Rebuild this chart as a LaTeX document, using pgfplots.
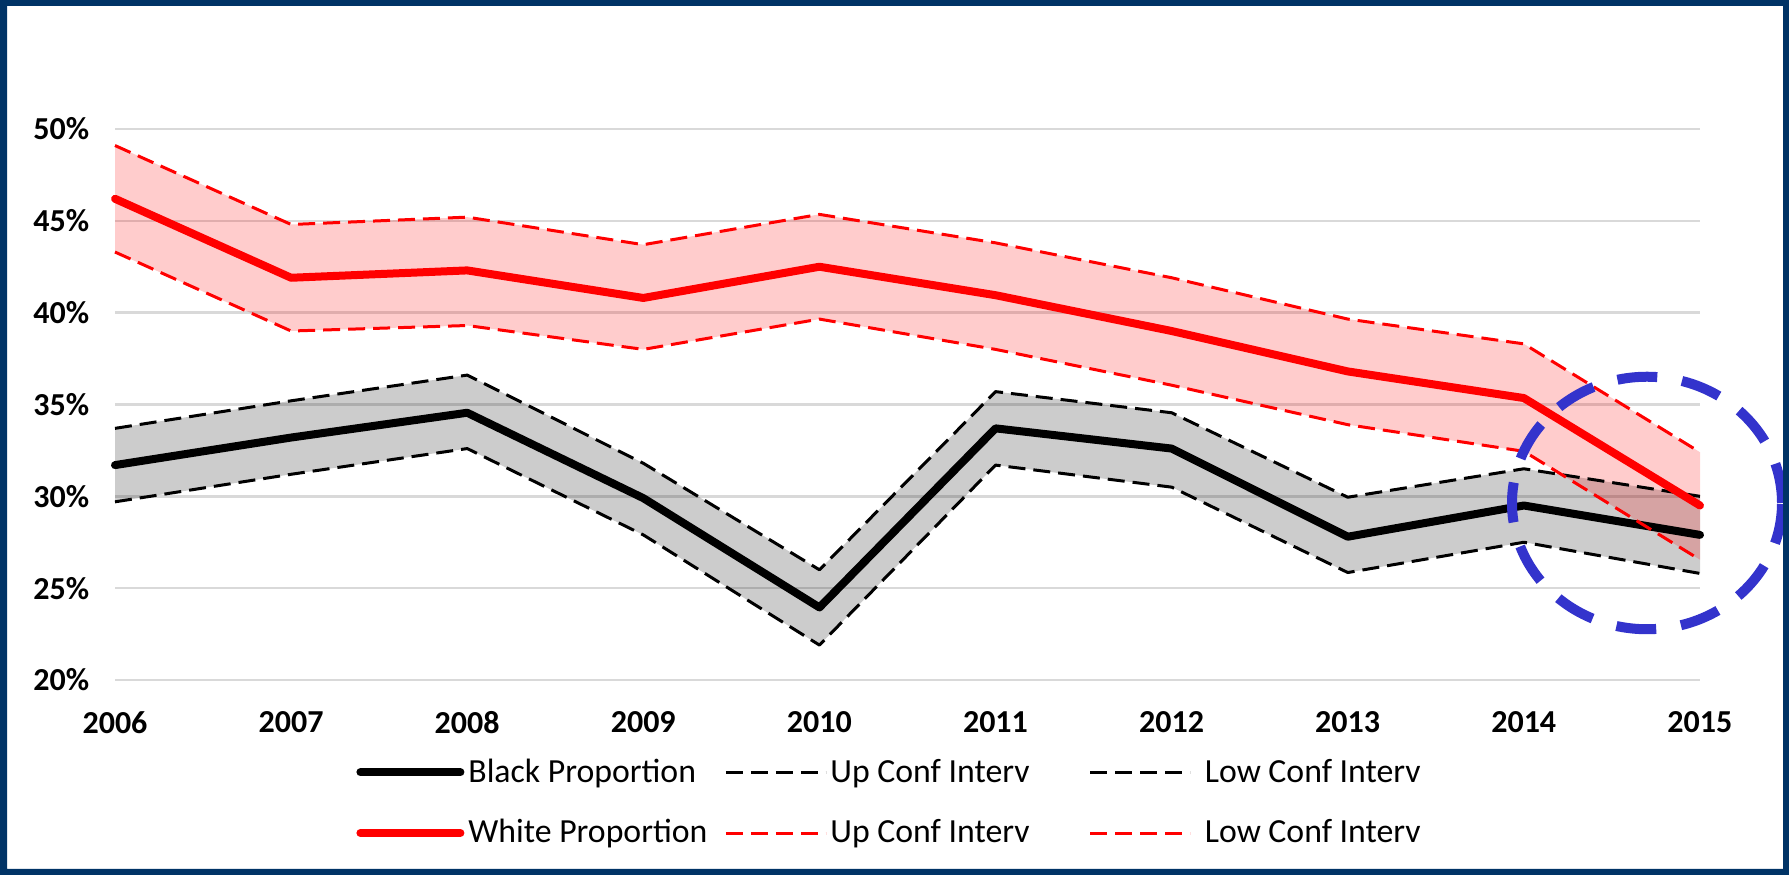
\documentclass[border=0pt]{standalone}
\usepackage{pgfplots}
\pgfplotsset{compat=1.18}
\usepackage{pgfplotstable}
\usepgfplotslibrary{fillbetween}
\usepackage{fontspec}
\setmainfont{Carlito}
\definecolor{navy}{RGB}{0,51,102}
\definecolor{gridgray}{RGB}{217,217,217}
\definecolor{ellblue}{RGB}{51,51,204}

\pgfplotstableread{
year bp bu bl wp wu wl
2006 31.7 33.7 29.7 46.2 49.1 43.3
2007 33.2 35.2 31.2 41.9 44.8 39.0
2008 34.55 36.6 32.6 42.3 45.2 39.3
2009 29.9 31.8 27.9 40.8 43.7 38.0
2010 23.95 26.0 21.9 42.5 45.35 39.65
2011 33.7 35.7 31.7 40.95 43.8 38.0
2012 32.6 34.55 30.5 39.0 41.9 36.05
2013 27.8 29.95 25.85 36.8 39.65 33.9
2014 29.5 31.5 27.5 35.35 38.3 32.45
2015 27.9 30.0 25.8 29.5 32.4 26.55
}\data

\begin{document}
\begin{tikzpicture}
\path (0,0) rectangle (715.6pt,350pt);
\begin{axis}[
  at={(46pt,78pt)}, anchor=south west,
  scale only axis, width=634pt, height=220.4pt,
  xmin=2006, xmax=2015, ymin=20, ymax=50,
  xtick={2006,2007,...,2015}, ytick={20,25,...,50},
  axis line style={draw=none},
  major tick length=0pt,
  ymajorgrids, grid style={gridgray, line width=1pt},
  /pgf/number format/assume math mode=true,
  /pgf/number format/1000 sep={},
  xticklabel style={font=\fontsize{12.8pt}{15pt}\selectfont\bfseries, yshift=-9pt},
  yticklabel style={font=\fontsize{12.8pt}{15pt}\selectfont\bfseries, xshift=-6.8pt},
  yticklabel={\pgfmathprintnumber{\tick}\%},
  clip=false,
  legend columns=3,
  legend cell align=left,
  legend image code/.code={\draw[#1] (0pt,0pt) -- (40pt,0pt);},
  legend style={at={(0.152,-0.142)}, anchor=north west, draw=none, fill=none,
    font=\fontsize{13.5pt}{15pt}\selectfont, inner sep=0pt,
    nodes={inner sep=0pt},
    row sep=13.4pt,
    /tikz/column 1/.style={column sep=1.6pt},
    /tikz/column 2/.style={column sep=0pt},
    /tikz/column 3/.style={column sep=1.2pt},
    /tikz/column 4/.style={column sep=0pt},
    /tikz/column 5/.style={column sep=5.3pt}},
  line join=round,
]
% invisible boundary paths for the confidence bands
\addplot[draw=none, forget plot, name path=bu] table[x=year,y=bu]{\data};
\addplot[draw=none, forget plot, name path=bl] table[x=year,y=bl]{\data};
\addplot[draw=none, forget plot, name path=wu] table[x=year,y=wu]{\data};
\addplot[draw=none, forget plot, name path=wl] table[x=year,y=wl]{\data};
\addplot[fill=black, fill opacity=0.2, draw=none, forget plot] fill between[of=bu and bl];
\addplot[fill=red, fill opacity=0.2, draw=none, forget plot] fill between[of=wu and wl];
% visible series
\addplot[black, line width=3.2pt, line cap=round] table[x=year,y=bp]{\data};
\addlegendentry{\makebox[102.4pt][l]{Black Proportion}}
\addplot[black, line width=1.2pt, dash pattern=on 6.8pt off 3.2pt] table[x=year,y=bu]{\data};
\addlegendentry{\makebox[103.3pt][l]{Up Conf Interv}}
\addplot[black, line width=1.2pt, dash pattern=on 6.8pt off 3.2pt] table[x=year,y=bl]{\data};
\addlegendentry{Low Conf Interv}
\addplot[red, line width=3.2pt, line cap=round] table[x=year,y=wp]{\data};
\addlegendentry{\makebox[102.4pt][l]{White Proportion}}
\addplot[red, line width=1.2pt, dash pattern=on 6.8pt off 3.2pt] table[x=year,y=wu]{\data};
\addlegendentry{\makebox[103.3pt][l]{Up Conf Interv}}
\addplot[red, line width=1.2pt, dash pattern=on 6.8pt off 3.2pt] table[x=year,y=wl]{\data};
\addlegendentry{Low Conf Interv}
\end{axis}
\draw[overlay, ellblue, line width=4pt, dash pattern=on 16pt off 10pt] (658.8pt,148.8pt) ellipse [x radius=54pt, y radius=50.5pt];
\fill[navy, even odd rule] (0,0) rectangle (715.6pt,350pt) (2.8pt,2.4pt) rectangle (713.2pt,347.6pt);
\end{tikzpicture}
\end{document}
